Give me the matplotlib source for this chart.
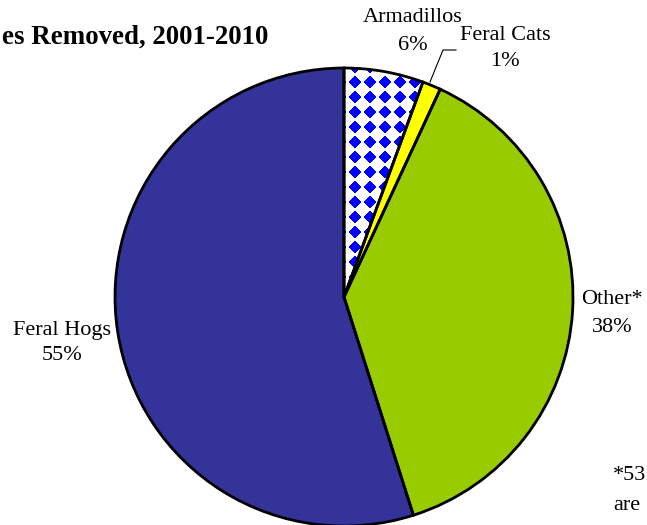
import matplotlib
matplotlib.use("Agg")
import matplotlib.pyplot as plt
import numpy as np

# data
labels = ["Armadillos", "Feral Cats", "Other*", "Feral Hogs"]
shares = [5.6, 1.3, 38.2, 54.9]
pct_text = ["6%", "1%", "38%", "55%"]
colors = ["white", "#FFFF00", "#99CC00", "#333399"]

W, H = 647, 525
fig = plt.figure(figsize=(W / 100, H / 100), dpi=100)
ax = fig.add_axes([0, 0, 1, 1])

plt.rcParams["font.family"] = ["Liberation Serif", "DejaVu Serif"]

cx, cy, r = 344, H - 297, 229

wedges, _ = ax.pie(shares, colors=colors, startangle=90, counterclock=False,
                   center=(cx, cy), radius=r, frame=True,
                   wedgeprops=dict(linewidth=0))

# blue diamond pattern for the armadillo slice
p = 15.0
yy, xx = np.mgrid[0:H, 0:W] + 0.5
dx = np.abs(((xx - 355) % p) - p / 2)
dy = np.abs(((yy - 82) % p) - p / 2)
blue = (p / 2 - dx) + (p / 2 - dy) < 6.3
img = np.ones((H, W, 3))
img[blue] = [0, 0, 1]
im = ax.imshow(img, extent=(0, W, 0, H), origin="upper", zorder=1.5,
               interpolation="nearest")
im.set_clip_path(wedges[0])

# outlines on top
ax.pie(shares, colors=["none"] * 4, startangle=90, counterclock=False,
       center=(cx, cy), radius=r, frame=True,
       wedgeprops=dict(linewidth=2, edgecolor="black", zorder=3))
ax.set_xlim(0, W)
ax.set_ylim(0, H)
ax.set_aspect("equal")
ax.axis("off")

fs = 16
label_pos = [(413, 18, 45), (505, 35, 62), (612, 300, 327), (62, 330, 356)]
for lab, pct, (x, y1, y2) in zip(labels, pct_text, label_pos):
    ax.text(x, H - y1, lab, ha="center", va="center", fontsize=fs)
    ax.text(x, H - y2, pct, ha="center", va="center", fontsize=fs)

# leader line for feral cats
ax.plot([430, 443, 456], [H - 82, H - 50, H - 50], color="black", lw=0.8,
        zorder=4)

ax.text(268, H - 37, "es Removed, 2001-2010", ha="right", va="center",
        fontsize=19.4, fontweight="bold")

ax.text(613, H - 475, "*53", ha="left", va="center", fontsize=fs)
ax.text(613, H - 505, "are", ha="left", va="center", fontsize=fs)

fig.savefig("out.png", dpi=100)
